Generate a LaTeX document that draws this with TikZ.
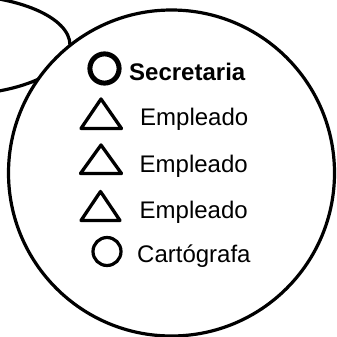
\documentclass[tikz,border=0pt]{standalone}
\usepackage{fontspec}
\setmainfont{Liberation Sans}
\begin{document}
\begin{tikzpicture}[x=1pt,y=-1pt,line join=round,
    rolelabel/.style={anchor=base west, inner sep=0pt, font=\fontsize{24}{28}\selectfont},
    boldlabel/.style={rolelabel, font=\fontsize{24}{28}\selectfont\bfseries}]
    \useasboundingbox (0,0) rectangle (337,337);

    % Draw the neighbour ellipse and the big circle over it
    \draw[line width=3.2pt] (-47,45) ellipse [x radius=117, y radius=50];
    \draw[line width=3.2pt, fill=white] (171.5,173) circle [radius=163];

    % Place the role symbols
    \draw[line width=5pt] (104.5,68.5) circle [radius=14.6];
    \draw[line width=3.3pt] (101,99) -- (121.5,128.5) -- (81,128.5) -- cycle;
    \draw[line width=3.3pt] (101,145) -- (121.5,173.5) -- (80.5,173.5) -- cycle;
    \draw[line width=3.3pt] (100.5,191.5) -- (120,220.5) -- (81,220.5) -- cycle;
    \draw[line width=3.2pt] (107,251.5) circle [radius=14];

    % Place the role names beside the symbols
    \node[boldlabel] (secretaria) at (129,80) {Secretaria};
    \node[rolelabel] (empleadoA) at (140,125) {Empleado};
    \node[rolelabel] (empleadoB) at (139.5,172) {Empleado};
    \node[rolelabel] (empleadoC) at (139.5,218) {Empleado};
    \node[rolelabel] (cartografa) at (137,262) {Cartógrafa};
\end{tikzpicture}
\end{document}
